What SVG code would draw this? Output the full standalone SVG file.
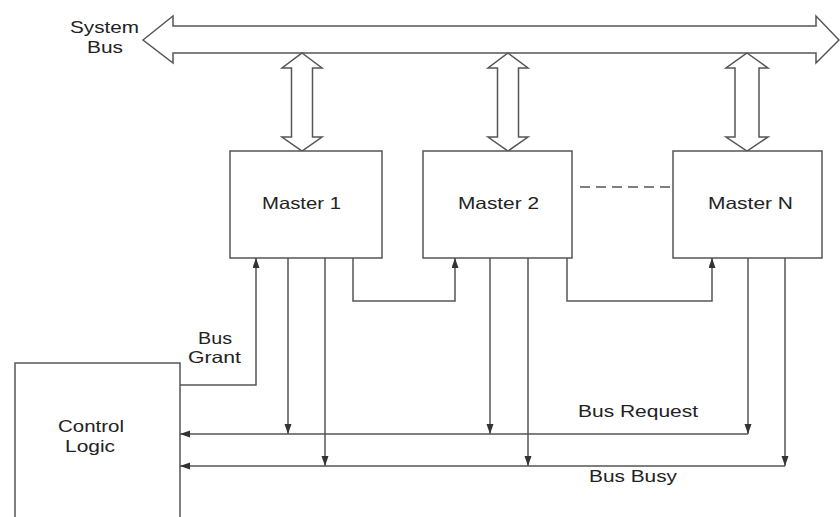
<svg xmlns="http://www.w3.org/2000/svg" width="840" height="517" viewBox="0 0 840 517">
  <style>
    .box { fill: #ffffff; stroke: #555555; stroke-width: 1.5; }
    .bus { fill: #ffffff; stroke: #555555; stroke-width: 1.5; stroke-linejoin: miter; }
    .wire { fill: none; stroke: #555555; stroke-width: 1.5; }
    .dash { fill: none; stroke: #555555; stroke-width: 1.5; stroke-dasharray: 10 6; }
    .lbl { font-family: "Liberation Sans", Arial, sans-serif; font-size: 16.5px; fill: #222222; text-anchor: middle; }
  </style>
  <defs>
    <marker id="arr" markerUnits="userSpaceOnUse" markerWidth="10" markerHeight="8" refX="10" refY="3.5" orient="auto">
      <path d="M0,0 L10,3.5 L0,7 z" fill="#333333"/>
    </marker>
  </defs>
  <rect width="840" height="517" fill="#ffffff"/>

  <g id="system-bus">
    <polygon class="bus" points="143,40 173,16 173,26 816,26 816,16 839,40 816,63 816,53 173,53 173,63"/>
    <text class="lbl" x="104.5" y="33" textLength="69" lengthAdjust="spacingAndGlyphs">System</text>
    <text class="lbl" x="105" y="53" textLength="36" lengthAdjust="spacingAndGlyphs">Bus</text>
  </g>

  <g id="bus-links">
    <polygon class="bus" points="302,53 322,68 312.5,68 312.5,137 322,137 302,151 282,137 291.5,137 291.5,68 282,68"/>
    <polygon class="bus" points="508,53 528,68 518.5,68 518.5,137 528,137 508,151 488,137 497.5,137 497.5,68 488,68"/>
    <polygon class="bus" points="747,53 768,68 759,68 759,137 768,137 747,151 726,137 735,137 735,68 726,68"/>
  </g>

  <g id="master-1">
    <rect class="box" x="230" y="151" width="152" height="107"/>
    <text class="lbl" x="301.5" y="209" textLength="79" lengthAdjust="spacingAndGlyphs">Master 1</text>
  </g>
  <g id="master-2">
    <rect class="box" x="423" y="151" width="149" height="107"/>
    <text class="lbl" x="498.5" y="209" textLength="81" lengthAdjust="spacingAndGlyphs">Master 2</text>
  </g>
  <g id="master-n">
    <rect class="box" x="673" y="151" width="149" height="107"/>
    <text class="lbl" x="750.5" y="209" textLength="85" lengthAdjust="spacingAndGlyphs">Master N</text>
  </g>
  <g id="control-logic">
    <rect class="box" x="15" y="363" width="165" height="170"/>
    <text class="lbl" x="91" y="432" textLength="66" lengthAdjust="spacingAndGlyphs">Control</text>
    <text class="lbl" x="90" y="452" textLength="50" lengthAdjust="spacingAndGlyphs">Logic</text>
  </g>

  <g id="connectors">
    <path class="dash" d="M580,187 H673"/>
    <path class="wire" d="M180,385 H256 V258" marker-end="url(#arr)"/>
    <path class="wire" d="M353,258 V301 H455 V258" marker-end="url(#arr)"/>
    <path class="wire" d="M567,258 V301 H712 V258" marker-end="url(#arr)"/>
    <path class="wire" d="M288,258 V434" marker-end="url(#arr)"/>
    <path class="wire" d="M490,258 V434" marker-end="url(#arr)"/>
    <path class="wire" d="M748,258 V434" marker-end="url(#arr)"/>
    <path class="wire" d="M325,258 V466" marker-end="url(#arr)"/>
    <path class="wire" d="M528,258 V466" marker-end="url(#arr)"/>
    <path class="wire" d="M785,258 V466" marker-end="url(#arr)"/>
    <path class="wire" d="M748,434 H180" marker-end="url(#arr)"/>
    <path class="wire" d="M785,466 H180" marker-end="url(#arr)"/>
  </g>

  <g id="labels">
    <text class="lbl" x="215" y="344" textLength="34" lengthAdjust="spacingAndGlyphs">Bus</text>
    <text class="lbl" x="214.5" y="363" textLength="53" lengthAdjust="spacingAndGlyphs">Grant</text>
    <text class="lbl" x="638" y="417" textLength="120" lengthAdjust="spacingAndGlyphs">Bus Request</text>
    <text class="lbl" x="633" y="482" textLength="88" lengthAdjust="spacingAndGlyphs">Bus Busy</text>
  </g>
</svg>
